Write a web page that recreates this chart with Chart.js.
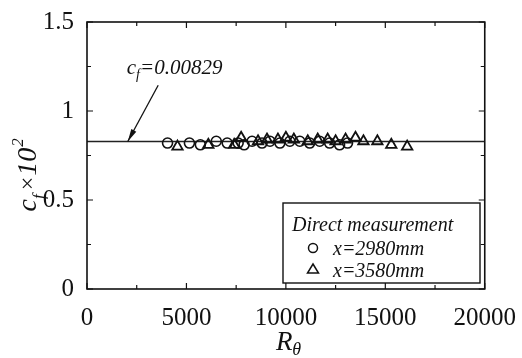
<!DOCTYPE html>
<html>
<head>
<meta charset="utf-8">
<script src="https://cdn.jsdelivr.net/npm/chart.js@4"></script>
<style>
  html, body { margin: 0; padding: 0; background: #fff; }
  #wrap { width: 522px; height: 358px; }
</style>
</head>
<body>
<div id="wrap"><canvas id="cf"></canvas></div>
<script>
// x = 2980 mm (circles)
const rCircle = [4050, 5150, 5700, 6500, 7050, 7600, 7900, 8300, 8800, 9200, 9700, 10200, 10700, 11200, 11700, 12200, 12700, 13100];
const cfCircle = [0.82, 0.82, 0.81, 0.83, 0.82, 0.82, 0.81, 0.83, 0.82, 0.83, 0.82, 0.83, 0.83, 0.82, 0.83, 0.82, 0.81, 0.82];
// x = 3580 mm (triangles)
const rTri = [4550, 6100, 7400, 7750, 8600, 9050, 9600, 10000, 10400, 11100, 11600, 12100, 12500, 13000, 13500, 13900, 14600, 15300, 16100];
const cfTri = [0.80, 0.81, 0.81, 0.85, 0.83, 0.84, 0.84, 0.85, 0.84, 0.83, 0.84, 0.84, 0.83, 0.84, 0.85, 0.83, 0.83, 0.81, 0.80];
// fitted value
const cfMean = 0.829;
const fitX = [0, 20000];
const xTicks = [0, 5000, 10000, 15000, 20000];
const yTicks = [0, 0.5, 1, 1.5];

const serif = "'Liberation Serif', 'DejaVu Serif', serif";
Chart.defaults.font.family = serif;

function pts(xs, ys) { return xs.map((x, i) => ({ x: x, y: ys[i] })); }

// frame, inward ticks, titles, annotation and legend box
const decor = {
  id: 'decor',
  afterDraw(chart) {
    const { ctx, chartArea: a, scales: { x, y } } = chart;
    ctx.save();
    ctx.strokeStyle = '#111';
    ctx.lineWidth = 1.6;
    ctx.strokeRect(a.left, a.top, a.right - a.left, a.bottom - a.top);

    ctx.lineWidth = 1.2;
    for (let v = 0; v <= 20000; v += 2500) {
      const px = x.getPixelForValue(v);
      const len = v % 5000 === 0 ? 6 : 4;
      ctx.beginPath();
      ctx.moveTo(px, a.bottom); ctx.lineTo(px, a.bottom - len);
      ctx.moveTo(px, a.top); ctx.lineTo(px, a.top + len);
      ctx.stroke();
    }
    for (let v = 0; v <= 1.5; v += 0.25) {
      const py = y.getPixelForValue(v);
      const len = Math.abs(v * 2 - Math.round(v * 2)) < 1e-6 ? 6 : 4;
      ctx.beginPath();
      ctx.moveTo(a.left, py); ctx.lineTo(a.left + len, py);
      ctx.moveTo(a.right, py); ctx.lineTo(a.right - len, py);
      ctx.stroke();
    }

    // x title R_theta
    ctx.fillStyle = '#111';
    ctx.textBaseline = 'alphabetic';
    ctx.textAlign = 'left';
    ctx.font = 'italic 27px ' + serif;
    const rw = ctx.measureText('R').width;
    const cx = (a.left + a.right) / 2 - 10;
    ctx.fillText('R', cx, 350);
    ctx.font = 'italic 18px ' + serif;
    ctx.fillText('\u03b8', cx + rw, 355);

    // y title c_f x 10^2
    ctx.save();
    ctx.translate(36, (a.top + a.bottom) / 2);
    ctx.rotate(-Math.PI / 2);
    let tx = -56;
    ctx.font = 'italic 28px ' + serif;
    ctx.fillText('c', tx, 0); tx += ctx.measureText('c').width;
    ctx.font = 'italic 17px ' + serif;
    ctx.fillText('f', tx, 8); tx += ctx.measureText('f').width + 4;
    ctx.font = '24px ' + serif;
    ctx.fillText('\u00d7', tx, -1); tx += ctx.measureText('\u00d7').width + 1;
    ctx.font = 'italic 28px ' + serif;
    ctx.fillText('10', tx, 0); tx += ctx.measureText('10').width;
    ctx.font = 'italic 17px ' + serif;
    ctx.fillText('2', tx + 1, -13);
    ctx.restore();

    // annotation text and arrow
    let ax = x.getPixelForValue(2000);
    const ay = y.getPixelForValue(1.21);
    ctx.font = 'italic 21px ' + serif;
    ctx.fillText('c', ax, ay); ax += ctx.measureText('c').width;
    ctx.font = 'italic 14px ' + serif;
    ctx.fillText('f', ax, ay + 5); ax += ctx.measureText('f').width;
    ctx.font = 'italic 21px ' + serif;
    ctx.fillText('=0.00829', ax, ay);

    const x0 = x.getPixelForValue(3580), y0 = y.getPixelForValue(1.145);
    const x1 = x.getPixelForValue(2050), y1 = y.getPixelForValue(cfMean);
    ctx.lineWidth = 1.3;
    ctx.beginPath(); ctx.moveTo(x0, y0); ctx.lineTo(x1, y1); ctx.stroke();
    const ang = Math.atan2(y1 - y0, x1 - x0);
    ctx.beginPath();
    ctx.moveTo(x1, y1);
    ctx.lineTo(x1 - 13 * Math.cos(ang - 0.22), y1 - 13 * Math.sin(ang - 0.22));
    ctx.lineTo(x1 - 13 * Math.cos(ang + 0.22), y1 - 13 * Math.sin(ang + 0.22));
    ctx.closePath(); ctx.fill();

    // legend box
    const bx = 283, by = 203, bw = 197, bh = 80;
    ctx.fillStyle = '#fff';
    ctx.fillRect(bx, by, bw, bh);
    ctx.lineWidth = 1.4;
    ctx.strokeRect(bx, by, bw, bh);
    ctx.fillStyle = '#111';
    ctx.font = 'italic 20px ' + serif;
    ctx.fillText('Direct measurement', bx + 9, by + 28);
    ctx.fillText('x=2980mm', bx + 50, by + 52);
    ctx.fillText('x=3580mm', bx + 50, by + 74);
    ctx.lineWidth = 1.5;
    ctx.beginPath(); ctx.arc(bx + 30, by + 45, 4.5, 0, Math.PI * 2); ctx.stroke();
    ctx.beginPath();
    ctx.moveTo(bx + 30, by + 61); ctx.lineTo(bx + 35.5, by + 70); ctx.lineTo(bx + 24.5, by + 70);
    ctx.closePath(); ctx.stroke();
    ctx.restore();
  }
};

new Chart(document.getElementById('cf'), {
  type: 'scatter',
  data: {
    datasets: [
      {
        label: 'fit',
        type: 'line',
        data: pts(fitX, [cfMean, cfMean]),
        borderColor: '#222',
        borderWidth: 1.5,
        pointRadius: 0,
        order: 3
      },
      {
        label: 'x=2980mm',
        data: pts(rCircle, cfCircle),
        pointStyle: 'circle',
        pointRadius: 5,
        pointBorderWidth: 1.6,
        borderColor: '#111',
        backgroundColor: 'rgba(0,0,0,0)'
      },
      {
        label: 'x=3580mm',
        data: pts(rTri, cfTri),
        pointStyle: 'triangle',
        pointRadius: 6,
        pointBorderWidth: 1.8,
        borderColor: '#111',
        backgroundColor: 'rgba(0,0,0,0)'
      }
    ]
  },
  options: {
    responsive: true,
    maintainAspectRatio: false,
    animation: false,
    layout: { padding: { left: 0, right: 37, top: 22, bottom: 0 } },
    plugins: { legend: { display: false }, tooltip: { enabled: false } },
    scales: {
      x: {
        type: 'linear',
        min: 0, max: 20000,
        afterFit(s) { s.height = 69; },
        afterBuildTicks(s) { s.ticks = xTicks.map(v => ({ value: v })); },
        grid: { display: false },
        border: { display: false },
        ticks: {
          padding: 6,
          color: '#111',
          font: { family: serif, size: 25 },
          callback: v => String(v)
        }
      },
      y: {
        min: 0, max: 1.5,
        afterFit(s) { s.width = 87; },
        afterBuildTicks(s) { s.ticks = yTicks.map(v => ({ value: v })); },
        grid: { display: false },
        border: { display: false },
        ticks: {
          padding: 5,
          color: '#111',
          font: { family: serif, size: 25 },
          callback: v => String(v)
        }
      }
    }
  },
  plugins: [decor]
});
</script>
</body>
</html>
